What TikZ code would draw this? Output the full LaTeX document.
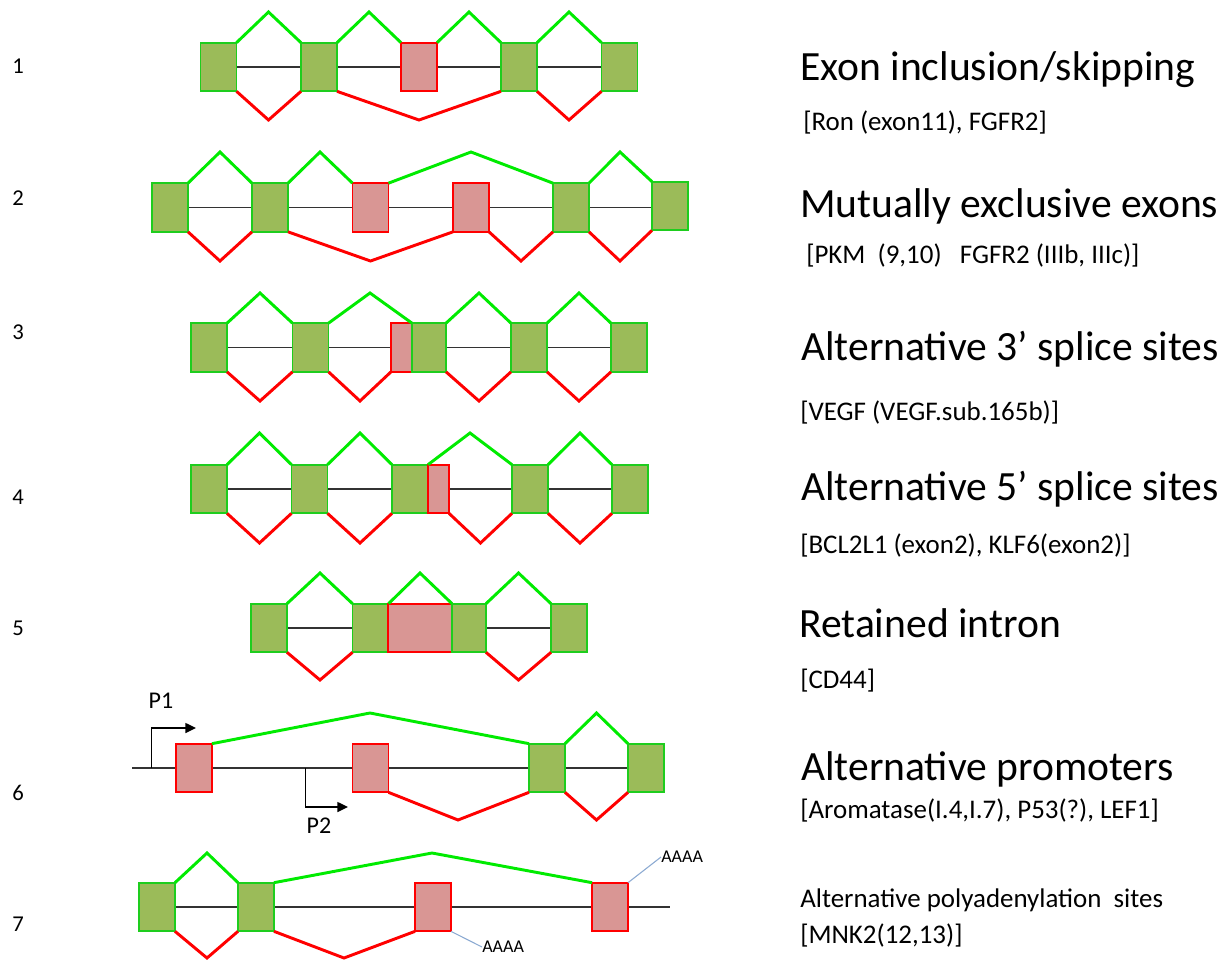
\documentclass[tikz,border=0pt]{standalone}
\usepackage{fontspec}
\setmainfont{Carlito}
\usetikzlibrary{arrows.meta,backgrounds}
\definecolor{exgreen}{RGB}{155,187,89}
\definecolor{exgreenline}{RGB}{30,205,30}
\definecolor{chgreen}{RGB}{0,235,0}
\definecolor{chred}{RGB}{255,0,0}
\definecolor{expink}{RGB}{217,150,148}
\definecolor{aline}{RGB}{140,170,210}
\begin{document}
\begin{tikzpicture}[x=0.75pt,y=-0.75pt,
  gex/.style={draw=exgreenline, fill=exgreen, line width=1.3pt, inner sep=0pt, outer sep=0pt, minimum width=27pt, minimum height=36.5pt},
  pex/.style={gex, draw=chred, fill=expink},
  up/.style={draw=chgreen, line width=2.2pt},
  down/.style={draw=chred, line width=2.2pt},
  intron/.style={draw=black!80, line width=1.2pt},
  prom/.style={draw=black, line width=1.1pt, -{Triangle[length=8pt,width=7.5pt]}},
  polya/.style={draw=aline, line width=0.8pt},
  num/.style={font=\fontsize{17}{20}\selectfont, inner sep=0pt},
  title/.style={font=\fontsize{31.2}{36}\selectfont, anchor=base west, inner sep=0pt},
  sub/.style={font=\fontsize{20.2}{24}\selectfont, anchor=base west, inner sep=0pt},
  plabel/.style={font=\fontsize{18}{21}\selectfont, inner sep=0pt},
  alabel/.style={font=\fontsize{13.5}{16}\selectfont, anchor=west, inner sep=0pt}
]
\useasboundingbox (0,0) rectangle (1231,960);
\begin{scope}[on background layer]
\fill[white] (0,0) rectangle (1231,960);
\end{scope}

% ---------- Row numbers ----------
\node[num] (n1) at (18,66) {1};
\node[num] (n2) at (18,198) {2};
\node[num] (n3) at (18,332) {3};
\node[num] (n4) at (18,497) {4};
\node[num] (n5) at (18,628) {5};
\node[num] (n6) at (18,793) {6};
\node[num] (n7) at (18,924) {7};

% ---------- Row 1 ----------
\node[gex] (a1) at (218.5,67) {};
\node[gex] (a2) at (319,67) {};
\node[pex] (a3) at (419,67) {};
\node[gex] (a4) at (519,67) {};
\node[gex] (a5) at (619.5,67) {};
\begin{scope}[on background layer]
\draw[intron] (a1) -- (a5);
\end{scope}
\draw[up] (a1.north east) -- (268.5,12) -- (a2.north west);
\draw[up] (a2.north east) -- (369,12) -- (a3.north west);
\draw[up] (a3.north east) -- (469,12) -- (a4.north west);
\draw[up] (a4.north east) -- (569,12) -- (a5.north west);
\draw[down] (a1.south east) -- (268.5,120) -- (a2.south west);
\draw[down] (a2.south east) -- (419,120) -- (a4.south west);
\draw[down] (a4.south east) -- (569,120) -- (a5.south west);

% ---------- Row 2 ----------
\node[gex] (b1) at (170,207.5) {};
\node[gex] (b2) at (270,207.5) {};
\node[pex] (b3) at (370.5,207.5) {};
\node[pex] (b4) at (471,207.5) {};
\node[gex] (b5) at (571,207.5) {};
\node[gex] (b6) at (670,206) {};
\begin{scope}[on background layer]
\draw[intron] (b1) -- (b6.west |- b1);
\end{scope}
\draw[up] (b1.north east) -- (220,152) -- (b2.north west);
\draw[up] (b2.north east) -- (320,152) -- (b3.north west);
\draw[up] (b3.north east) -- (471,152) -- (b5.north west);
\draw[up] (b5.north east) -- (620,152) -- (b6.north west);
\draw[down] (b1.south east) -- (220,261) -- (b2.south west);
\draw[down] (b2.south east) -- (370.5,261) -- (b4.south west);
\draw[down] (b4.south east) -- (521,261) -- (b5.south west);
\draw[down] (b5.south east) -- (620,261) -- (b6.south west);

% ---------- Row 3 ----------
\node[gex] (c1) at (209,347.5) {};
\node[gex] (c2) at (310.5,347.5) {};
\node[pex, minimum width=15.75pt] (c3) at (401.5,347.5) {};
\node[gex, minimum width=25.5pt] (c4) at (429,347.5) {};
\node[gex] (c5) at (529,347.5) {};
\node[gex] (c6) at (629,347.5) {};
\begin{scope}[on background layer]
\draw[intron] (c1) -- (c6);
\end{scope}
\draw[up] (c1.north east) -- (260,293) -- (c2.north west);
\draw[up] (c2.north east) -- (370,293) -- (c4.north west);
\draw[up] (c4.north east) -- (479,293) -- (c5.north west);
\draw[up] (c5.north east) -- (579,293) -- (c6.north west);
\draw[down] (c1.south east) -- (260,401) -- (c2.south west);
\draw[down] (c2.south east) -- (360,401) -- (c3.south west);
\draw[down] (c4.south east) -- (479,401) -- (c5.south west);
\draw[down] (c5.south east) -- (579,401) -- (c6.south west);

% ---------- Row 4 ----------
\node[gex] (d1) at (209,489) {};
\node[gex] (d2) at (309.5,489) {};
\node[gex] (d3) at (410,489) {};
\node[pex, minimum width=15.75pt] (d4) at (438.5,489) {};
\node[gex] (d5) at (530,489) {};
\node[gex] (d6) at (630,489) {};
\begin{scope}[on background layer]
\draw[intron] (d1) -- (d6);
\end{scope}
\draw[up] (d1.north east) -- (259.5,433) -- (d2.north west);
\draw[up] (d2.north east) -- (360,433) -- (d3.north west);
\draw[up] (d3.north east) -- (470,433) -- (d5.north west);
\draw[up] (d5.north east) -- (580,433) -- (d6.north west);
\draw[down] (d1.south east) -- (259.5,543) -- (d2.south west);
\draw[down] (d2.south east) -- (360,543) -- (d3.south west);
\draw[down] (d4.south east) -- (480.5,543) -- (d5.south west);
\draw[down] (d5.south east) -- (580,543) -- (d6.south west);

% ---------- Row 5 ----------
\node[gex] (e1) at (269,628) {};
\node[gex] (e2) at (370.5,628) {};
\node[pex, minimum width=48pt] (e3) at (420,628) {};
\node[gex, minimum width=25.5pt] (e4) at (469,628) {};
\node[gex] (e5) at (569,628) {};
\begin{scope}[on background layer]
\draw[intron] (e1) -- (e5);
\end{scope}
\draw[up] (e1.north east) -- (320,573) -- (e2.north west);
\draw[up] (e2.north east) -- (420,573) -- (e4.north west);
\draw[up] (e4.north east) -- (518.5,573) -- (e5.north west);
\draw[down] (e1.south east) -- (320,680) -- (e2.south west);
\draw[down] (e4.south east) -- (518.5,680) -- (e5.south west);

% ---------- Row 6 ----------
\node[pex] (f1) at (194,768) {};
\node[pex] (f2) at (370.5,768) {};
\node[gex] (f3) at (547,768) {};
\node[gex] (f4) at (646,768) {};
\coordinate (f0) at (132,768);
\coordinate (p1s) at (151.5,768);
\coordinate (p1e) at (196,728);
\coordinate (p2s) at (305.5,768);
\coordinate (p2e) at (348,807);
\begin{scope}[on background layer]
\draw[intron] (f0) -- (f4);
\end{scope}
\draw[prom] (p1s) |- (p1e);
\draw[prom] (p2s) |- (p2e);
\node[plabel] (lp1) at (161,701) {P1};
\node[plabel] (lp2) at (319,826) {P2};
\draw[up] (f1.north east) -- (370,713) -- (f3.north west);
\draw[up] (f3.north east) -- (596.5,713) -- (f4.north west);
\draw[down] (f2.south east) -- (458,820) -- (f3.south west);
\draw[down] (f3.south east) -- (596.5,820) -- (f4.south west);

% ---------- Row 7 ----------
\node[gex] (g1) at (157,907) {};
\node[gex] (g2) at (256,907) {};
\node[pex] (g3) at (433,907) {};
\node[pex] (g4) at (610,907) {};
\coordinate (g5) at (669.5,907);
\begin{scope}[on background layer]
\draw[intron] (g1) -- (g5);
\end{scope}
\draw[up] (g1.north east) -- (207,853) -- (g2.north west);
\draw[up] (g2.north east) -- (432,853) -- (g4.north west);
\draw[down] (g1.south east) -- (207,958) -- (g2.south west);
\draw[down] (g2.south east) -- (344,958) -- (g3.south west);
\node[alabel] (aa1) at (482,947) {AAAA};
\node[alabel] (aa2) at (661,857) {AAAA};
\draw[polya] (g3.south east) -- (aa1.west);
\draw[polya] (g4.north east) -- (aa2.west);

% ---------- Labels ----------
\node[title] (t1) at (800,80) {Exon inclusion/skipping};
\node[sub] (s1) at (803,130) {[Ron (exon11), FGFR2]};
\node[title] (t2) at (800,217) {Mutually exclusive exons};
\node[sub] (s2) at (806,263) {[PKM\ \ (9,10)\ \ \ FGFR2 (IIIb, IIIc)]};
\node[title] (t3) at (801,360) {Alternative 3’ splice sites};
\node[sub] (s3) at (800,420) {[VEGF (VEGF.sub.165b)]};
\node[title] (t4) at (801,500) {Alternative 5’ splice sites};
\node[sub] (s4) at (800,553) {[BCL2L1 (exon2), KLF6(exon2)]};
\node[title] (t5) at (799,637) {Retained intron};
\node[sub] (s5) at (800,688) {[CD44]};
\node[title] (t6) at (801,780) {Alternative promoters};
\node[sub] (s6) at (800,818) {[Aromatase(I.4,I.7), P53(?), LEF1]};
\node[sub] (t7) at (800,907) {Alternative polyadenylation\ \ sites};
\node[sub] (s7) at (800,943) {[MNK2(12,13)]};
\end{tikzpicture}
\end{document}
